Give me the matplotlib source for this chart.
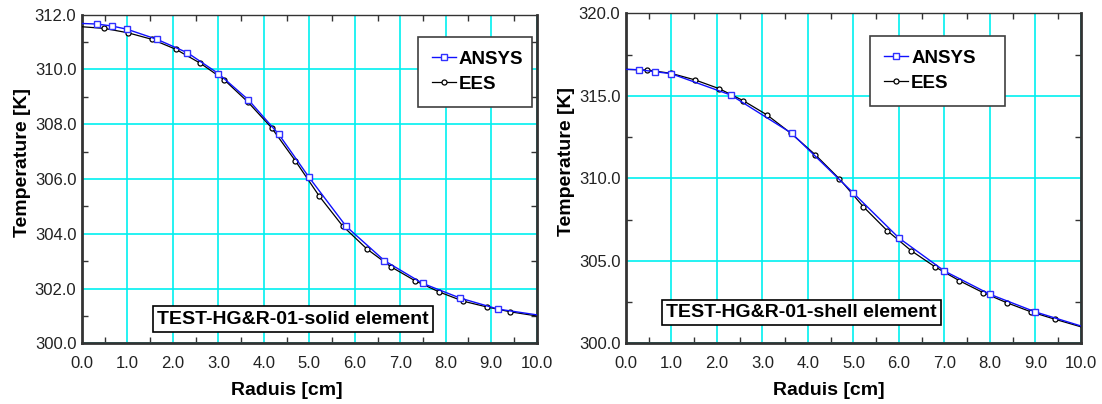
import matplotlib.pyplot as plt
from matplotlib.ticker import MultipleLocator, FormatStrFormatter

plt.rcParams['font.family'] = ['Liberation Sans', 'DejaVu Sans']

# left panel: solid element
solid_ansys_r = [0.0, 0.32, 0.65, 0.99, 1.65, 2.32, 3.0, 3.66, 4.33, 4.99,
                 5.81, 6.65, 7.49, 8.32, 9.15, 10.0]
solid_ansys_t = [311.68, 311.66, 311.59, 311.47, 311.10, 310.61, 309.85, 308.89,
                 307.63, 306.07, 304.27, 303.02, 302.19, 301.65, 301.25, 301.04]
solid_ees_r = [0.0, 0.49, 1.01, 1.54, 2.06, 2.60, 3.13, 3.65, 4.17, 4.69, 5.22,
               5.73, 6.27, 6.80, 7.32, 7.85, 8.38, 8.90, 9.42, 10.0]
solid_ees_t = [311.56, 311.50, 311.34, 311.10, 310.74, 310.23, 309.62, 308.81,
               307.87, 306.67, 305.37, 304.29, 303.44, 302.79, 302.29, 301.88,
               301.54, 301.33, 301.15, 301.0]

# right panel: shell element
shell_ansys_r = [0.0, 0.29, 0.63, 0.99, 2.30, 3.64, 5.0, 6.0, 7.0, 8.0, 9.0, 10.0]
shell_ansys_t = [316.60, 316.58, 316.46, 316.34, 315.05, 312.73, 309.10, 306.38,
                 304.38, 302.97, 301.90, 301.05]
shell_ees_r = [0.0, 0.47, 0.99, 1.52, 2.05, 2.58, 3.10, 3.63, 4.16, 4.69, 5.22,
               5.74, 6.27, 6.79, 7.33, 7.85, 8.37, 8.90, 9.44, 10.0]
shell_ees_t = [316.60, 316.56, 316.36, 315.96, 315.43, 314.70, 313.84, 312.72,
               311.43, 309.97, 308.27, 306.83, 305.61, 304.64, 303.79, 303.07,
               302.46, 301.91, 301.45, 301.0]

panels = [
    dict(ansys=(solid_ansys_r, solid_ansys_t), ees=(solid_ees_r, solid_ees_t),
         ylim=(300, 312), ymajor=2.0, yminor=1.0,
         rect=[0.0744, 0.1502, 0.4126, 0.8134],
         note='TEST-HG&R-01-solid element', note_xy=(4.645, 300.88),
         leg=(0.738, 0.720, 0.252, 0.213), xlab=0.450, ylab=0.549),
    dict(ansys=(shell_ansys_r, shell_ansys_t), ees=(shell_ees_r, shell_ees_t),
         ylim=(300, 320), ymajor=5.0, yminor=2.5,
         rect=[0.568, 0.1502, 0.4129, 0.817],
         note='TEST-HG&R-01-shell element', note_xy=(3.864, 301.88),
         leg=(0.536, 0.705, 0.297, 0.227), xlab=0.445, ylab=0.552),
]

fig = plt.figure(figsize=(11.02, 4.04), dpi=100)

for p in panels:
    ax = fig.add_axes(p['rect'])
    r, t = p['ees']
    ax.plot(r, t, color='black', lw=0.9, marker='o', ms=3.6, mfc='white',
            mec='black', mew=0.9, markevery=list(range(1, len(r) - 1)),
            label='EES', zorder=3)
    r, t = p['ansys']
    ax.plot(r, t, color='#1010ff', lw=1.0, marker='s', ms=5, mfc='white',
            mec='#3030ff', mew=1.0, markevery=list(range(1, len(r) - 1)),
            label='ANSYS', zorder=4)

    ax.set_xlim(0, 10)
    ax.set_ylim(*p['ylim'])
    ax.xaxis.set_major_locator(MultipleLocator(1.0))
    ax.xaxis.set_minor_locator(MultipleLocator(0.5))
    ax.yaxis.set_major_locator(MultipleLocator(p['ymajor']))
    ax.yaxis.set_minor_locator(MultipleLocator(p['yminor']))
    ax.xaxis.set_major_formatter(FormatStrFormatter('%.1f'))
    ax.yaxis.set_major_formatter(FormatStrFormatter('%.1f'))
    ax.grid(True, which='major', color='#00f0f0', lw=1.2, zorder=0)
    ax.set_axisbelow(True)
    ax.tick_params(which='both', direction='in', top=True, right=True,
                   labelsize=12, colors='#333333', labelcolor='#222222')
    ax.tick_params(which='major', length=0)
    ax.tick_params(axis='x', which='major', pad=9)
    ax.tick_params(axis='y', which='major', pad=4)
    ax.tick_params(which='minor', length=4, width=1)
    for side in ['left', 'bottom', 'right']:
        ax.spines[side].set_linewidth(2.0)
        ax.spines[side].set_color('#333333')
    ax.spines['top'].set_linewidth(1.0)
    ax.spines['top'].set_color('#333333')

    ax.set_xlabel('Raduis [cm]', fontsize=14, fontweight='bold')
    ax.set_ylabel('Temperature [K]', fontsize=14, fontweight='bold')
    ax.xaxis.set_label_coords(p['xlab'], -0.118)
    ax.yaxis.set_label_coords(-0.112, p['ylab'])

    ax.text(p['note_xy'][0], p['note_xy'][1], p['note'], fontsize=14,
            fontweight='bold', ha='center', va='center', zorder=6,
            bbox=dict(boxstyle='square,pad=0.22', fc='white', ec='black', lw=1.2))

    h, l = ax.get_legend_handles_labels()
    leg = ax.legend(h[::-1], l[::-1], loc='upper left', bbox_to_anchor=p['leg'],
                    mode='expand', borderaxespad=0, fancybox=False, framealpha=1,
                    edgecolor='#404040', handlelength=1.3,
                    handletextpad=0.15, borderpad=0.75, labelspacing=0.42,
                    prop=dict(weight='bold', size=13.5))
    leg.get_frame().set_linewidth(1.2)
    leg.set_zorder(7)

fig.savefig('out.png', dpi=100)
